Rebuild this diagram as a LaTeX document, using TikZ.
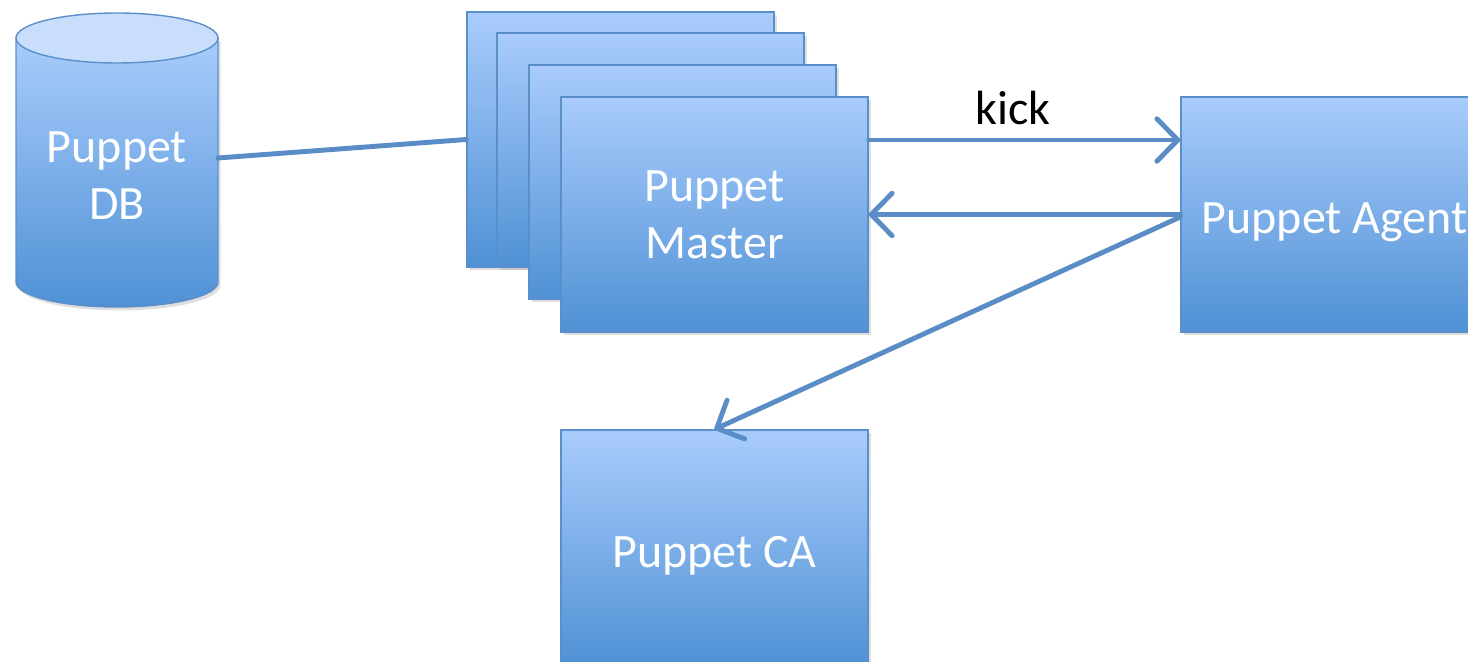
\documentclass[tikz,border=0pt]{standalone}
\usepackage{fontspec}
\setmainfont{Carlito}
\usetikzlibrary{arrows.meta,shadows,positioning}
\definecolor{boxtop}{HTML}{A9CCFC}
\definecolor{boxbot}{HTML}{4F91D5}
\definecolor{boxline}{HTML}{5B8FCA}
\definecolor{dbcap}{HTML}{C8DEFB}
\definecolor{linkblue}{HTML}{5A8DC5}
\tikzset{
    server/.style={
        draw=boxline,
        line width=0.8pt,
        top color=boxtop,
        bottom color=boxbot,
        minimum width=6.14cm,
        minimum height=4.7cm,
        text=white,
        align=center,
        font=\fontsize{27.3}{32.5}\selectfont,
        drop shadow={opacity=0.25,shadow xshift=0.05cm,shadow yshift=-0.07cm}
    },
    oneline/.style={
        text height=0.94cm
    },
    link/.style={
        draw=linkblue,
        line width=2.8pt,
        line cap=round
    },
    msg/.style={
        link,
        -{Straight Barb[round,length=0.42cm,width=0.85cm]}
    }
}

\begin{document}
\begin{tikzpicture}
  \path[use as bounding box,clip] (0,0) rectangle (29.36,13.22);

  % Puppet DB cylinder
  \path[draw=boxline,line width=0.8pt,top color=boxtop,bottom color=boxbot,
        drop shadow={opacity=0.25,shadow xshift=0.05cm,shadow yshift=-0.07cm}]
    (0.32,12.46) -- (0.32,7.58)
    arc[start angle=180,end angle=360,x radius=2.02cm,y radius=0.5cm]
    -- (4.36,12.46) -- cycle;
  \filldraw[fill=dbcap,draw=boxline,line width=0.8pt] (2.34,12.46) ellipse[x radius=2.02cm,y radius=0.5cm];
  \node[text=white,align=center,font=\fontsize{27.3}{32.5}\selectfont] (DB) at (2.34,9.70) {Puppet\\DB};
  \coordinate (DB-e) at (4.36,10.06);

  % stack of masters
  \node[server,minimum height=5.1cm] (M1) at (12.41,10.43) {};
  \node[server,minimum height=4.68cm] (M2) at (13.01,10.22) {};
  \node[server,minimum height=4.68cm] (M3) at (13.65,9.58) {};
  \node[server] (M) at (14.29,8.93) {Puppet\\Master};

  \node[server,oneline] (A) at (26.69,8.93) {Puppet Agent};
  \node[server,oneline] (CA) at (14.29,2.27) {Puppet CA};

  \draw[link] (DB-e) -- (M1.west);
  \draw[msg] ([yshift=1.49cm]M.east) -- ([yshift=1.49cm]A.west);
  \node[font=\fontsize{27.3}{32.5}\selectfont] (kick) at (20.26,11.06) {kick};
  \draw[msg] (A.west) -- (M.east);
  \draw[msg] ([yshift=-0.05cm]A.west) -- (CA.north);

\end{tikzpicture}
\end{document}
